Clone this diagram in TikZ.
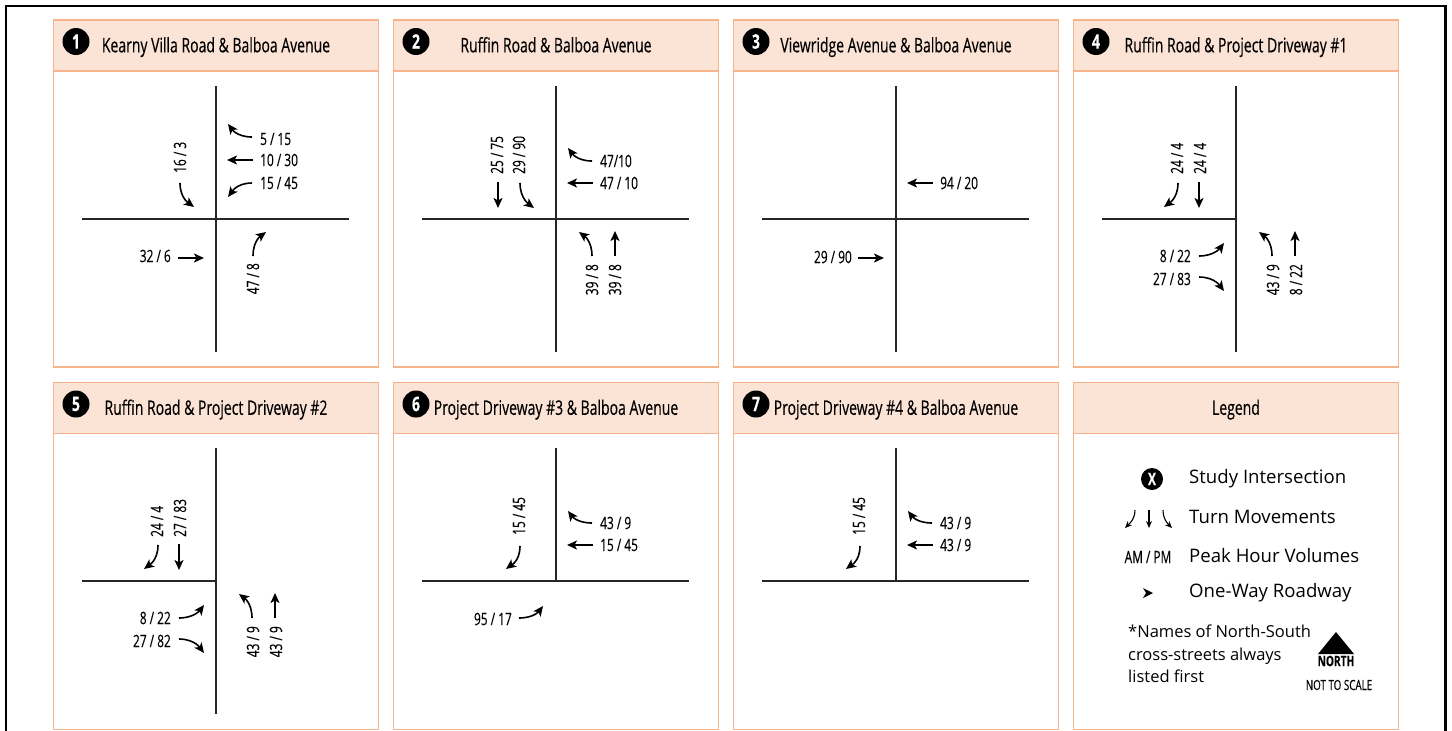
\documentclass[tikz,border=0pt]{standalone}
\usepackage{fontspec}
\setmainfont{Open Sans}
\newfontfamily\condfont{Open Sans}[FakeStretch=0.7, FakeBold=0.3]
\usepackage{xcolor}
\usetikzlibrary{arrows.meta, calc}
\definecolor{panelline}{HTML}{F6B48A}
\definecolor{panelfill}{HTML}{FBE3D6}

\begin{document}
\begin{tikzpicture}[
    x=1pt, y=-1pt,
    frameline/.style={draw=black, line width=2.4pt},
    panelbox/.style={draw=panelline, line width=1.2pt},
    headbox/.style={panelbox, fill=panelfill},
    badge/.style={circle, fill=black, text=white, inner sep=0pt, minimum size=27pt, font=\condfont\fontsize{20}{20}\bfseries},
    title/.style={font=\condfont\fontsize{20}{22}\selectfont, text=black, inner sep=0pt, anchor=base},
    road/.style={draw=black!85, line width=1.1pt},
    turn/.style={-{Stealth[length=10pt, width=9pt, inset=2.5pt]}, line width=1.6pt},
    vol/.style={font=\condfont\fontsize{17}{20}\selectfont, inner sep=0pt},
    volL/.style={vol, anchor=west},
    volR/.style={vol, anchor=east},
    volS/.style={vol, rotate=90, anchor=east},
    volN/.style={vol, rotate=90, anchor=west},
    legendtext/.style={font=\fontsize{18.6}{20}\selectfont, inner sep=0pt, anchor=west},
    smallturn/.style={-{Stealth[length=7pt, width=6pt]}, line width=1.1pt}
]
\useasboundingbox (0,0) rectangle (1452,731);
\draw[frameline] (6,731) -- (6,5.8) -- (1445.5,5.8) -- (1445.5,731);

% panels and their headings
\foreach \px/\py/\pnum/\ptitle in {
    53.5/20/1/Kearny Villa Road \& Balboa Avenue,
    393.5/20/2/Ruffin Road \& Balboa Avenue,
    733.5/20/3/Viewridge Avenue \& Balboa Avenue,
    1073.5/20/4/Ruffin Road \& Project Driveway \#1,
    53.5/382.5/5/Ruffin Road \& Project Driveway \#2,
    393.5/382.5/6/Project Driveway \#3 \& Balboa Avenue,
    733.5/382.5/7/Project Driveway \#4 \& Balboa Avenue,
    1073.5/382.5/8/Legend} {
  \draw[panelbox] (\px,\py) rectangle +(325,347);
  \draw[headbox] (\px,\py) rectangle +(325,51);
  \node[title] (title\pnum) at ($(\px,\py)+(162.5,32.3)$) {\ptitle};
  \ifnum\pnum<8
    \node[badge] (badge\pnum) at ($(\px,\py)+(22.5,21.5)$) {\pnum};
  \fi
}

% 1 Kearny Villa
\begin{scope}[shift={(216,219)}]
\draw[road] (0,-133) -- (0,133);
\draw[road] (-134,0) -- (133,0);
\node[volL] (a1) at (44,-80) {5 / 15};
\node[volL] (a2) at (44,-59) {10 / 30};
\node[volL] (a3) at (44,-36) {15 / 45};
\node[volN] (a4) at (-36,-46) {16 / 3};
\node[volR] (a5) at (-45,37) {32 / 6};
\node[volS] (a6) at (37,44) {47 / 8};
\draw[turn] (36,-82) .. controls +(-16,0) and +(3,4) .. (12,-95);
\draw[turn] (37,-59) -- (11,-59);
\draw[turn] (36,-36) .. controls +(-16,0) and +(3,-4) .. (12,-22);
\draw[turn] (-36,-36) .. controls +(0,16) and +(-4,-3) .. (-22,-12);
\draw[turn] (-38,39) -- (-12,39);
\draw[turn] (37,37) .. controls +(0,-16) and +(-4,3) .. (50,13);
\end{scope}

% 2 Ruffin / Balboa
\begin{scope}[shift={(556,219)}]
\draw[road] (0,-133) -- (0,133);
\draw[road] (-134,0) -- (133,0);
\node[volN] (b1) at (-59,-45) {25 / 75};
\node[volN] (b2) at (-37,-45) {29 / 90};
\node[volL] (b3) at (44,-58) {47/10};
\node[volL] (b4) at (44,-36) {47 / 10};
\node[volS] (b5) at (36,45) {39 / 8};
\node[volS] (b6) at (59,45) {39 / 8};
\draw[turn] (-58,-37) -- (-58,-11);
\draw[turn] (-36,-36) .. controls +(0,16) and +(-4,-3) .. (-22,-11);
\draw[turn] (36,-58) .. controls +(-16,0) and +(3,4) .. (12,-71);
\draw[turn] (37,-36) -- (11,-36);
\draw[turn] (36,37) .. controls +(0,-16) and +(4,3) .. (23,13);
\draw[turn] (59,37) -- (59,12);
\end{scope}

% 3 Viewridge
\begin{scope}[shift={(896,219)}]
\draw[road] (0,-133) -- (0,133);
\draw[road] (-134,0) -- (133,0);
\node[volL] (c1) at (44,-36) {94 / 20};
\node[volR] (c2) at (-44,38) {29 / 90};
\draw[turn] (37,-36) -- (11,-36);
\draw[turn] (-38,39) -- (-12,39);
\end{scope}

% 4 Ruffin / Driveway 1
\begin{scope}[shift={(1236,219)}]
\draw[road] (0,-133) -- (0,133);
\draw[road] (-134,0) -- (0,0);
\node[volN] (d1) at (-59,-45) {24 / 4};
\node[volN] (d2) at (-36,-45) {24 / 4};
\node[volR] (d3) at (-45,37) {8 / 22};
\node[volR] (d4) at (-45,60) {27 / 83};
\node[volS] (d5) at (37,45) {43 / 9};
\node[volS] (d6) at (60,45) {8 / 22};
\draw[turn] (-58,-36) .. controls +(0,16) and +(4,-3) .. (-72,-12);
\draw[turn] (-37,-37) -- (-37,-11);
\draw[turn] (-37,37) .. controls +(16,0) and +(-3,4) .. (-12,24);
\draw[turn] (-37,58) .. controls +(16,0) and +(-3,-4) .. (-12,72);
\draw[turn] (36,37) .. controls +(0,-16) and +(4,3) .. (23,13);
\draw[turn] (59,37) -- (59,12);
\end{scope}

% 5 Ruffin / Driveway 2
\begin{scope}[shift={(216,581)}]
\draw[road] (0,-133) -- (0,133);
\draw[road] (-134,0) -- (0,0);
\node[volN] (e1) at (-59,-44) {24 / 4};
\node[volN] (e2) at (-36,-44) {27 / 83};
\node[volR] (e3) at (-45,37) {8 / 22};
\node[volR] (e4) at (-45,60) {27 / 82};
\node[volS] (e5) at (37,45) {43 / 9};
\node[volS] (e6) at (60,45) {43 / 9};
\draw[turn] (-58,-36) .. controls +(0,16) and +(4,-3) .. (-72,-12);
\draw[turn] (-37,-37) -- (-37,-11);
\draw[turn] (-37,37) .. controls +(16,0) and +(-3,4) .. (-12,24);
\draw[turn] (-37,58) .. controls +(16,0) and +(-3,-4) .. (-12,72);
\draw[turn] (36,37) .. controls +(0,-16) and +(4,3) .. (23,13);
\draw[turn] (59,37) -- (59,12);
\end{scope}

% 6 Driveway 3
\begin{scope}[shift={(556,581)}]
\draw[road] (0,-133) -- (0,0);
\draw[road] (-134,0) -- (133,0);
\node[volN] (f1) at (-37,-46) {15 / 45};
\node[volL] (f2) at (44,-58) {43 / 9};
\node[volL] (f3) at (44,-36) {15 / 45};
\node[volR] (f4) at (-44,38) {95 / 17};
\draw[turn] (-36,-35) .. controls +(0,16) and +(4,-3) .. (-50,-12);
\draw[turn] (36,-58) .. controls +(-16,0) and +(3,4) .. (12,-70);
\draw[turn] (37,-36) -- (11,-36);
\draw[turn] (-37,37) .. controls +(16,0) and +(-3,4) .. (-13,25);
\end{scope}

% 7 Driveway 4
\begin{scope}[shift={(896,581)}]
\draw[road] (0,-133) -- (0,0);
\draw[road] (-134,0) -- (133,0);
\node[volN] (g1) at (-37,-46) {15 / 45};
\node[volL] (g2) at (44,-58) {43 / 9};
\node[volL] (g3) at (44,-36) {43 / 9};
\draw[turn] (-36,-35) .. controls +(0,16) and +(4,-3) .. (-50,-12);
\draw[turn] (36,-58) .. controls +(-16,0) and +(3,4) .. (12,-70);
\draw[turn] (37,-36) -- (11,-36);
\end{scope}

% legend
\node[badge, minimum size=22pt, font=\condfont\fontsize{17}{17}\bfseries] (lgbadge) at (1152,479) {X};
\node[legendtext] (lg1) at (1189,479) {Study Intersection};
\node[legendtext] (lg2) at (1189,517) {Turn Movements};
\node[legendtext] (lg3) at (1189,556) {Peak Hour Volumes};
\node[legendtext] (lg4) at (1189,593) {One-Way Roadway};
\node[vol] (lgam) at (1148,557) {AM / PM};
\draw[smallturn] (1135,510) .. controls +(0,10) and +(3,-3) .. (1125,528);
\draw[smallturn] (1149,510) -- (1149,528);
\draw[smallturn] (1163,510) .. controls +(0,10) and +(-3,-3) .. (1172,528);
\fill (1143,588) -- (1153,593) -- (1143,598) -- (1146,593) -- cycle;
\node[font=\fontsize{16.5}{22.5}\selectfont, inner sep=0pt, align=left, anchor=north west] (lgnote) at (1128,625) {*Names of North-South\\cross-streets always\\listed first};
\fill (1336,632) -- (1354,654) -- (1318,654) -- cycle;
\node[font=\condfont\fontsize{14.5}{15}\bfseries, inner sep=0pt] (lgnorth) at (1336,661) {NORTH};
\node[font=\condfont\fontsize{14}{15}\selectfont, inner sep=0pt] (lgscale) at (1339,685) {NOT TO SCALE};
\end{tikzpicture}
\end{document}
